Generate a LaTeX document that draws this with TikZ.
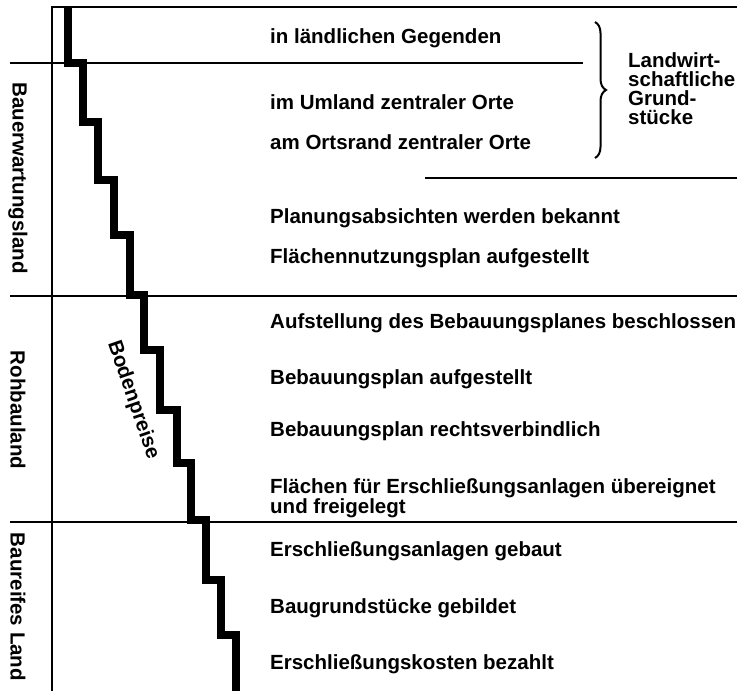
\documentclass[tikz,border=0pt]{standalone}
\usepackage{fontspec}
\setmainfont{Liberation Sans}
\usetikzlibrary{decorations.pathreplacing}
\begin{document}
\begin{tikzpicture}[x=1pt,y=-1pt,
  txt/.style={font=\fontsize{20.5}{20}\selectfont\bfseries, inner sep=0pt, anchor=base west},
  sidelbl/.style={font=\fontsize{20.5}{20}\selectfont\bfseries, inner sep=0pt, rotate=-90},
  rule/.style={line width=2.4pt},
  stair/.style={line width=8pt, miter limit=10},
  bracestyle/.style={line width=2pt, decorate, decoration={brace, amplitude=11pt}}
]
\useasboundingbox (0,0) rectangle (737,691);

% frame lines
\draw[rule] (52,691) -- (52,7) -- (737,7);
\draw[rule] (10,63) -- (583,63);
\draw[rule] (425,178) -- (737,178);
\draw[rule] (10,296) -- (737,296);
\draw[rule] (10,522) -- (737,522);

% staircase of land prices
\draw[stair] (68,7) |- (83,63) |- (98,122) |- (114,180) |- (130,235) |- (144,295)
  |- (160,350) |- (177,410) |- (191,463) |- (206,520) |- (221,580) |- (236,635) -- (236,691);

% side labels
\node[sidelbl] (bew) at (18,178) {Bauerwartungsland};
\node[sidelbl] (rbl) at (18,410) {Rohbauland};
\node[sidelbl] (brl) at (18,607) {Baureifes Land};
\node[sidelbl, rotate=19] (bp) at (133,400) {Bodenpreise};

% stage texts
\node[txt] (t1) at (270,43) {in ländlichen Gegenden};
\node[txt] (t2) at (270,109) {im Umland zentraler Orte};
\node[txt] (t3) at (270,149) {am Ortsrand zentraler Orte};
\node[txt] (t4) at (270,223) {Planungsabsichten werden bekannt};
\node[txt] (t5) at (270,263) {Flächennutzungsplan aufgestellt};
\node[txt] (t6) at (270,328) {Aufstellung des Bebauungsplanes beschlossen};
\node[txt] (t7) at (270,384) {Bebauungsplan aufgestellt};
\node[txt] (t8) at (270,436) {Bebauungsplan rechtsverbindlich};
\node[txt, anchor=north west, align=left, font=\fontsize{20.5}{20}\selectfont\bfseries] (t9) at (270,478) {Flächen für Erschließungsanlagen übereignet\\und freigelegt};
\node[txt] (t10) at (270,556) {Erschließungsanlagen gebaut};
\node[txt] (t11) at (270,613) {Baugrundstücke gebildet};
\node[txt] (t12) at (270,669) {Erschließungskosten bezahlt};

% brace and label
\coordinate (bt) at (595,22);
\coordinate (bb) at (595,158);
\draw[bracestyle] (bt) -- (bb);
\node[txt, anchor=north west, align=left, font=\fontsize{20.5}{19}\selectfont\bfseries] (lw) at (628,52) {Landwirt-\\schaftliche\\Grund-\\stücke};
\end{tikzpicture}
\end{document}
